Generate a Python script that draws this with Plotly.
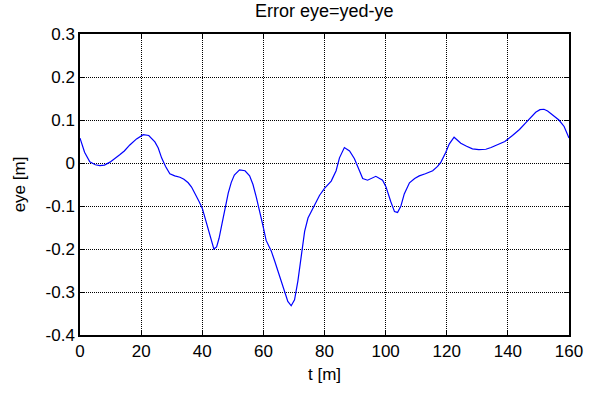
import plotly.graph_objects as go

# Tracking error samples: distance t [m] and error eye [m]
t = [0, 0.5, 1.5, 3.2, 5, 6.5, 8, 9.8, 11.5, 13, 14.5, 16.3, 18.5, 20.7, 22.5, 24.5,
     25.6, 26.7, 28, 29.4, 31, 32.7, 34, 35.4, 36.5, 38, 39, 40, 41, 42, 43, 43.8,
     44.7, 45.5, 46.5, 47.5, 48.5, 49.5, 50.5, 52.2, 54, 55.5, 56.6, 57.7, 58.8,
     59.8, 60.9, 62.6, 63.7, 65.3, 66.9, 68, 69.1, 70.2, 71.3, 72.4, 73.5, 74.6,
     76.2, 78.4, 80, 82.2, 83.8, 84.9, 86.5, 88.2, 89.8, 91.4, 92.5, 94.1, 96.8,
     99, 100.1, 101.7, 102.9, 103.9, 105, 106.1, 107.8, 109.5, 111, 113, 115.4,
     117, 118.1, 119.7, 120.8, 122.4, 124.6, 126.5, 128.4, 130.5, 132.8, 134.5,
     136.1, 139, 141.5, 143.8, 145.9, 147.5, 149.1, 150.5, 151.8, 153, 154.5,
     156.7, 158.4, 160]
eye = [0.058, 0.045, 0.025, 0.003, -0.004, -0.006, -0.005, 0.002, 0.01, 0.019, 0.028,
       0.042, 0.056, 0.066, 0.064, 0.049, 0.035, 0.012, -0.008, -0.025, -0.03, -0.033,
       -0.038, -0.046, -0.056, -0.075, -0.09, -0.105, -0.13, -0.16, -0.185, -0.2,
       -0.195, -0.175, -0.14, -0.105, -0.07, -0.045, -0.028, -0.016, -0.018, -0.03,
       -0.05, -0.08, -0.11, -0.144, -0.18, -0.205, -0.228, -0.265, -0.3, -0.322,
       -0.332, -0.318, -0.274, -0.213, -0.159, -0.128, -0.105, -0.075, -0.059,
       -0.042, -0.018, 0.012, 0.036, 0.028, 0.01, -0.017, -0.036, -0.04, -0.031,
       -0.04, -0.055, -0.09, -0.113, -0.115, -0.1, -0.072, -0.046, -0.036, -0.03,
       -0.025, -0.018, -0.008, 0.002, 0.025, 0.044, 0.06, 0.046, 0.039, 0.033,
       0.031, 0.032, 0.036, 0.041, 0.05, 0.064, 0.078, 0.094, 0.107, 0.118, 0.124,
       0.125, 0.121, 0.113, 0.1, 0.085, 0.058]

x_ticks = [0, 20, 40, 60, 80, 100, 120, 140, 160]
y_ticks = [-0.4, -0.3, -0.2, -0.1, 0, 0.1, 0.2, 0.3]
y_labels = ["-0.4", "-0.3", "-0.2", "-0.1", "0", "0.1", "0.2", "0.3"]

FONT = "Liberation Sans, Arial"

fig = go.Figure(go.Scatter(x=t, y=eye, mode="lines",
                           line=dict(color="#0000ff", width=1.2),
                           hoverinfo="skip"))

axis_style = dict(showline=True, linecolor="black", linewidth=1.5, mirror="ticks",
                  ticks="inside", ticklen=5, tickcolor="black",
                  showgrid=True, gridcolor="black", gridwidth=1, griddash="1px,1px",
                  zeroline=False,
                  tickfont=dict(family=FONT, size=17, color="black"))

fig.update_xaxes(range=[0, 160], tickvals=x_ticks,
                 title=dict(text="t [m]", standoff=8,
                            font=dict(family=FONT, size=17, color="black")),
                 **axis_style)
fig.update_yaxes(range=[-0.4, 0.3], tickvals=y_ticks, ticktext=y_labels,
                 title=dict(text="eye [m]", standoff=16,
                            font=dict(family=FONT, size=17, color="black")),
                 **axis_style)

fig.update_layout(
    width=595, height=393,
    margin=dict(l=80, r=25, t=34, b=55),
    paper_bgcolor="white", plot_bgcolor="white",
    showlegend=False,
    title=dict(text="Error eye=yed-ye", x=0.545, xanchor="center", y=0.988, yanchor="top",
               font=dict(family=FONT, size=18, color="black")),
)

fig.write_html("out.html")
